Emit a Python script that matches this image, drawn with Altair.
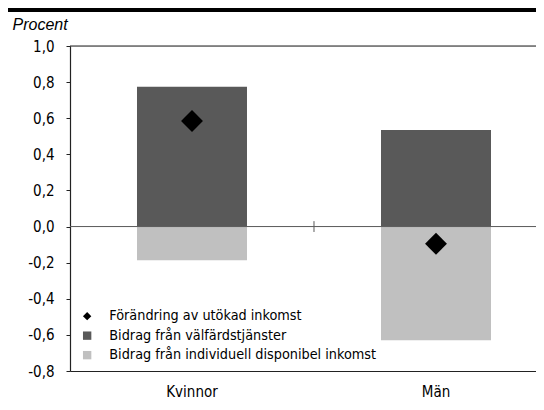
import altair as alt
import pandas as pd

# --- data ---
categories = ["Kvinnor", "Män"]
series_names = [
    "Förändring av utökad inkomst",
    "Bidrag från välfärdstjänster",
    "Bidrag från individuell disponibel inkomst",
]
valfard = [0.775, 0.535]
individuell = [-0.187, -0.63]
forandring = [0.585, -0.095]
y_ticks = [-0.8, -0.6, -0.4, -0.2, 0.0, 0.2, 0.4, 0.6, 0.8, 1.0]
y_min, y_max = -0.8, 1.0

FONT = "Liberation Sans Narrow, DejaVu Sans Condensed, sans-serif"

rows = []
for c, a, b, d in zip(categories, valfard, individuell, forandring):
    rows.append({"cat": c, "serie": series_names[1], "value": a})
    rows.append({"cat": c, "serie": series_names[2], "value": b})
    rows.append({"cat": c, "serie": series_names[0], "value": d})
df = pd.DataFrame(rows)
bars_df = df[df["serie"] != series_names[0]]
pts_df = df[df["serie"] == series_names[0]]
one_df = pd.DataFrame({"cat": [categories[0]], "vtop": [y_max]})

W, H = 466, 325
PAD = {"left": 62, "top": 38, "right": 0, "bottom": 28}

# band scale: step 244px, first category centred 122px from the left;
# the plot area is cut at the right like the reference
STEP = 244
P_IN, P_OUT, ALIGN = 0.25, 0.0799, 0.782
xscale = alt.Scale(domain=categories, paddingInner=P_IN, paddingOuter=P_OUT,
                   align=ALIGN, round=False)
yscale = alt.Scale(domain=[y_min, y_max], nice=False, zero=False)

color = alt.Color(
    "serie:N",
    scale=alt.Scale(domain=series_names, range=["#000000", "#595959", "#c0c0c0"]),
    legend=alt.Legend(
        title=None, orient="none", legendX=10, legendY=263, padding=0,
        symbolSize=70, labelFontSize=14.3, labelFont=FONT, labelColor="#000",
        rowPadding=4.5, labelOffset=15, symbolStrokeWidth=0, labelLimit=400,
    ),
)
shape = alt.Shape(
    "serie:N",
    scale=alt.Scale(domain=series_names, range=["diamond", "square", "square"]),
)

label_expr = "replace(replace(format(datum.value,'.1f'),'.',','),'\u2212','-')"

x_axis = alt.Axis(title=None, labelAngle=0, ticks=False, domainColor="#222",
                  domainWidth=1.2, labelFont=FONT, labelFontSize=15,
                  labelColor="#000", labelPadding=13)
y_axis = alt.Axis(values=y_ticks, labelExpr=label_expr, grid=False,
                  labelOverlap=False,
                  domainColor="#222", domainWidth=1.2, tickColor="#222",
                  tickSize=4, labelPadding=12, labelFont=FONT, labelFontSize=15,
                  labelColor="#000", title="Procent", titleAngle=0,
                  titleX=-58, titleY=-17, titleAlign="left",
                  titleBaseline="alphabetic", titleFont="Liberation Sans",
                  titleFontStyle="italic", titleFontWeight="normal",
                  titleFontSize=16, titleColor="#000")


def ydatum(v):
    return alt.YDatum(v, scale=yscale, axis=y_axis, type="quantitative")


bars = alt.Chart(bars_df).mark_bar(size=110).encode(
    x=alt.X("cat:N", scale=xscale, sort=categories, axis=x_axis),
    y=alt.Y("value:Q", scale=yscale, stack=None, axis=y_axis),
    color=color,
)

pts = alt.Chart(pts_df).mark_point(filled=True, size=480, opacity=1).encode(
    x=alt.X("cat:N", scale=xscale, sort=categories, axis=x_axis),
    y=alt.Y("value:Q", scale=yscale, axis=y_axis),
    color=color, shape=shape,
)

zero = alt.Chart(one_df).mark_rule(color="#5a5a5a", strokeWidth=1).encode(
    y=ydatum(0.0)
)

top = alt.Chart(one_df).mark_rule(color="#222", strokeWidth=1.2).encode(
    y=ydatum(y_max)
)

# category-boundary tick on the zero line, half a step right of Kvinnor
mid_tick = alt.Chart(one_df).mark_rule(
    color="#5a5a5a", strokeWidth=1, xOffset=STEP / 2
).encode(
    x=alt.X("cat:N", scale=xscale, sort=categories, bandPosition=0.5, axis=x_axis),
    y=ydatum(-0.03), y2=alt.datum(0.03),
)

# black header stripe at the top edge
black_bar = alt.Chart(one_df).mark_rect(
    color="#000", fill="#000", clip=False,
    yOffset=-PAD["top"], y2Offset=-(PAD["top"] - 4),
).encode(
    y=alt.Y("vtop:Q", scale=yscale, axis=y_axis),
    y2="vtop:Q",
    x=alt.value(-PAD["left"]), x2=alt.value(W),
)

chart = alt.layer(bars, zero, mid_tick, top, pts, black_bar).properties(
    width=W, height=H,
    autosize=alt.AutoSizeParams(type="none"),
    padding=PAD,
).configure_view(stroke=None).configure(background="white")

chart.save("out.html", embed_options={"renderer": "svg", "actions": False})
